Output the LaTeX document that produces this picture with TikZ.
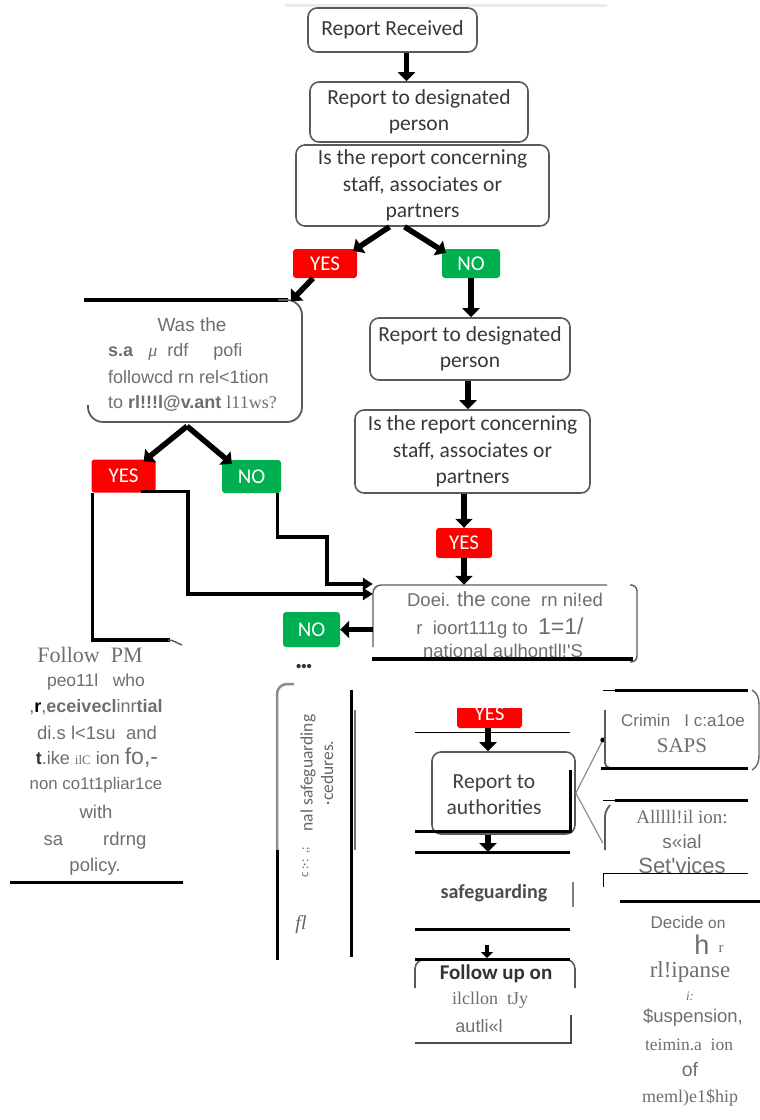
\documentclass[tikz,border=0pt]{standalone}
\usepackage{fontspec}
\setmainfont{Carlito}
\newfontfamily\ars{Liberation Sans}
\newfontfamily\ser{Liberation Serif}
\usetikzlibrary{arrows.meta}
\definecolor{yesred}{HTML}{FF0000}
\definecolor{nogreen}{HTML}{00B050}
\definecolor{ocr}{HTML}{6E6E6E}
\definecolor{boxline}{HTML}{5A5A5A}
\newcommand\myfs[2]{\fontsize{#1}{#2}\selectfont}
\tikzset{
  fbox/.style={draw=boxline, line width=1.6pt, rounded corners=9pt, align=center, inner sep=0pt, text=black!78, font=\myfs{21.5}{26.5}},
  yesbox/.style={fill=yesred, rounded corners=3pt, text=white, font=\myfs{21}{22}, inner sep=0pt},
  nobox/.style={fill=nogreen, rounded corners=3pt, text=white, font=\myfs{21}{22}, inner sep=0pt},
  bigarrow/.style={line width=5.5pt, -{Triangle[length=9pt,width=17pt]}},
  elbow/.style={line width=3.2pt, -{Triangle[length=10pt,width=12pt]}},
  txt/.style={inner sep=0pt, text=ocr, font=\ars\myfs{17.5}{20}},
  sertxt/.style={inner sep=0pt, text=ocr, font=\ser\myfs{18}{21}},
  fctxt/.style={inner sep=0pt, align=center, text=black!75, font=\myfs{21.5}{26}},
  thickrule/.style={line width=3pt},
  thinrule/.style={line width=1pt},
  grayrule/.style={draw=boxline, line width=1.4pt},
  hidden/.style={inner sep=0pt, draw=none}
}
\begin{document}
\begin{tikzpicture}[x=1pt,y=-1pt]
\useasboundingbox (0,0) rectangle (760,1120);
\draw[black!8, line width=3pt] (285,5) -- (607,5);

% ---------- top column ----------
\node[fbox, minimum width=169pt, minimum height=44pt] (rr) at (392.5,30) {Report Received};
\node[fbox, minimum width=218pt, minimum height=60pt] (d1) at (419,112) {Report to designated\\person};
\node[fbox, minimum width=253pt, minimum height=81pt] (c1) at (422.5,185.5) {Is the report concerning\\staff, associates or\\partners};
\draw[bigarrow] ([xshift=14pt]rr.south) -- ([xshift=14pt]rr.south |- d1.north);

\node[yesbox, minimum width=64pt, minimum height=29pt] (y1) at (325,263.5) {YES};
\node[nobox, minimum width=58pt, minimum height=29pt] (n1) at (471,263.5) {NO};
\draw[bigarrow] ([xshift=-33pt]c1.south) -- ([xshift=-4pt,yshift=-2pt]y1.north east);
\draw[bigarrow] ([xshift=-18pt]c1.south) -- ([xshift=4pt,yshift=-4pt]n1.north west);

% ---------- left question box ----------
\node[hidden, minimum width=218pt, minimum height=122pt] (q2) at (193,361) {};
\draw[line width=3.5pt] (84,300) -- (288,300);
\draw[grayrule, line width=1.8pt, rounded corners=15pt] (278,300) -- (302,300) -- (302,422) -- (88,422) -- (88,405);
\draw[bigarrow] ([xshift=-12pt]y1.south) -- ([xshift=98pt,yshift=60pt]q2.center);
\node[txt, font=\ars\myfs{19}{21}] (q2a) at (192,325) {Was the};
\node[txt, anchor=west, font=\ars\myfs{18}{20}] (q2b) at (108,352) {\textbf{s.a}\ \ \ {\itshape\ser μ}\ \ rdf\ \ \ \ \ pofi};
\node[txt, anchor=west, font=\ars\myfs{18}{20}] (q2c) at (108,377) {followcd rn rel<1tion};
\node[txt, anchor=west, font=\ars\myfs{18}{20}] (q2d) at (108,403) {to \textbf{rl!!!l@v.ant} {\ser l11ws?}};

% ---------- right column ----------
\node[fbox, minimum width=200pt, minimum height=62pt] (d2) at (470,349) {Report to designated\\person};
\node[fbox, minimum width=235pt, minimum height=83pt] (c2) at (472.5,451.5) {Is the report concerning\\staff, associates or\\partners};
\draw[bigarrow] (n1.south) -- (n1.south |- d2.north);
\draw[bigarrow] ([xshift=-2pt]d2.south) -- ([xshift=-2pt]d2.south |- c2.north);
\node[yesbox, minimum width=56pt, minimum height=30pt] (y2) at (464,543) {YES};
\draw[bigarrow] (c2.south -| y2.north) -- (y2.north);

% ---------- left YES / NO ----------
\node[yesbox, minimum width=64pt, minimum height=33pt] (y3) at (123.5,476) {YES};
\node[nobox, minimum width=59pt, minimum height=33pt] (n3) at (251.5,476.5) {NO};
\draw[bigarrow] ([xshift=-6pt,yshift=-4pt]q2.south) -- ([xshift=-12pt,yshift=-2pt]y3.north east);
\draw[bigarrow] ([xshift=-6pt,yshift=-4pt]q2.south) -- ([xshift=10pt,yshift=-4pt]n3.north west);

% ---------- concern box ----------
\node[hidden, minimum width=264pt, minimum height=75pt] (q3) at (505,622.5) {};
\draw[bigarrow] (y2.south) -- (y2.south |- q3.north);
\draw[grayrule, rounded corners=8pt] (373,647) -- (373,585) -- (607,585);
\draw[grayrule, rounded corners=6pt] (630,585) -- (637,585) -- (637,662) -- (630,662);
\draw[line width=3.5pt] (372,659) -- (633,659);
\node[txt, font=\ars\myfs{18.5}{20}] (q3a) at (505,599) {Doei. {\myfs{20.5}{22}the} cone\ \ rn ni!ed};
\node[txt, font=\ars\myfs{18.5}{20}] (q3b) at (500,628) {r\ \ ioort111g to\ \ {\myfs{23}{24}1=1/}};
\begin{scope}
\clip (360,630) rectangle (640,657.5);
\node[txt, font=\ars\myfs{18.5}{20}] (q3c) at (503,651) {national aulhontll!'S};
\end{scope}

\draw[elbow] ([xshift=-15pt,yshift=1.5pt]y3.south east) -| (188,594) -- ([yshift=28.5pt]q3.west);
\draw[elbow] ([xshift=-3.5pt]n3.south east) |- (327,537) |- ([yshift=38.5pt]q3.west);

\node[nobox, minimum width=57pt, minimum height=35pt] (n4) at (311.5,629.5) {NO};
\draw[bigarrow] (q3.west |- n4.east) -- (n4.east);
\node[inner sep=0pt, font=\ars\bfseries\myfs{15}{16}, text=black!80] (dots) at (304,668) {•••};

% ---------- left "Follow PM" text ----------
\draw[line width=3.2pt] ([xshift=1.5pt]y3.south west) |- (170,640);
\draw[boxline, line width=1.5pt] (168,640) to[out=0,in=160] (182,645);
\node[sertxt, font=\ser\myfs{22}{24}] (fp1) at (90,655) {Follow\ \ PM};
\node[txt] (fp2) at (96,682) {peo11l\ \ \ who};
\node[txt, font=\ars\myfs{18}{20}] (fp3) at (96,707) {,{\color{black}\textbf{r}},\textbf{eceivecl}inr\textbf{t}\textbf{ial}};
\node[txt, font=\ars\myfs{18.5}{20}] (fp4) at (97,733) {di.s l<1su\ \ and};
\node[txt, font=\ars\myfs{18}{20}] (fp5) at (97,758) {{\color{black!80}\textbf{t}}.ike {\ser\myfs{13}{14}ilC} ion {\myfs{23}{24}fo,-}};
\node[txt, font=\ars\myfs{16.8}{18}] (fp6) at (96,785) {non co1t1pliar1ce};
\node[txt, font=\ars\myfs{18.5}{20}] (fp7) at (96,812) {with};
\node[txt, font=\ars\myfs{18.5}{20}] (fp8) at (95,841) {sa\hspace{40pt}rdrng};
\node[txt, font=\ars\myfs{18.5}{20}] (fp9) at (95,867) {policy.};
\draw[thickrule] (10,882) -- (183,882);

% ---------- rotated box ----------
\draw[black!45, line width=2.5pt, rounded corners=10pt] (294,684) -- (277,684) -- (277,850);
\draw[line width=3pt] (277,850) -- (277,960);
\draw[line width=3pt] (351,690) -- (351,957);
\draw[black!55, line width=2.5pt] (355,710) -- (355,850);
\node[rotate=90, inner sep=0pt, text=black!60, font=\myfs{17.5}{19}] (rs1) at (308,773) {nal safeguarding};
\node[rotate=90, inner sep=0pt, text=black!60, font=\myfs{17.5}{19}] (rs2) at (327,773) {·cedures.};
\node[rotate=90, inner sep=0pt, text=black!55, font=\myfs{13}{14}] (rs0) at (306,862) {c\,:·:\ \ ,;};
\node[inner sep=0pt, text=black!60, font=\ser\itshape\myfs{20}{22}] (fl) at (301,925) {fl};

% ---------- right lower column ----------
\begin{scope}
\clip (440,708) rectangle (540,732);
\node[yesbox, minimum width=65pt, minimum height=29pt] (y4) at (489.5,713.5) {YES};
\end{scope}
\draw[thinrule] (415,732) -- (570,732);
\node[fbox, minimum width=143pt, minimum height=82pt] (ra) at (503.5,793) {};
\node[fctxt] (ratext) at (494,795) {Report to\\authorities};
\draw[bigarrow] ([xshift=-1.5pt]y4.south) -- ([xshift=-1.5pt]y4.south |- ra.north);
\draw[thickrule] (570,770) -- (570,832);
\draw[thickrule] (415,831) -- (572,831);
\coordinate (r2) at (488,852);
\draw[bigarrow] (ra.south -| r2) -- (r2);
\draw[thickrule] (415,852) -- (570,852);
\node[fctxt, text=black!70, font=\bfseries\myfs{20}{22}] (sg) at (494,893) {safeguarding};
\draw[black!50, line width=2.5pt] (573,882) -- (573,907);
\draw[thickrule] (415,929) -- (570,929);
\coordinate (r3) at (487,958);
\draw[line width=4pt, -{Triangle[length=6pt,width=12pt]}] (487,945) -- (r3);
\draw[boxline, line width=1.6pt, rounded corners=10pt] (415,988) -- (415,959) -- (575,959) -- (575,988);
\draw[thickrule] (415,959) -- (570,959);
\node[fctxt, text=black!80, font=\bfseries\myfs{21}{23}] (fu1) at (496,974) {Follow up on};
\node[sertxt, font=\ser\myfs{18}{20}] (fu2) at (490,1000) {ilcllon\ \ tJy};
\node[txt, font=\ars\myfs{18}{20}] (fu3) at (479,1026) {autli«l};
\draw[black!70, line width=1.2pt] (415,1043) -- (571,1043) -- (571,1015);

% ---------- authorities branches ----------
\node[hidden, minimum width=145pt, minimum height=78pt] (cr) at (675.5,729) {};
\node[hidden, minimum width=145pt, minimum height=73pt] (al) at (675.5,836.5) {};
\draw[black!45, line width=1.2pt] (ra.east) -- ([yshift=-11pt]cr.west);
\fill ([yshift=-11pt]cr.west) circle (2.5pt);
\draw[black!45, line width=1.2pt] (ra.east) -- ([yshift=-6.5pt]al.west);

\draw[thinrule] (603,690) -- (615,690);
\draw[thickrule] (615,690) -- (748,690);
\draw[boxline, line width=1.8pt, rounded corners=5pt] (605,710) -- (605,768) -- (612,768);
\draw[thickrule] (601,768) -- (748,768);
\draw[black!60, line width=1.4pt] (752,690) to[out=-30,in=90] (759,705) -- (759,755) to[out=-90,in=30] (752,770);
\node[txt, font=\ars\myfs{17}{20}] (cr1) at (683,720) {Crimin\ \ \ I c:a1oe};
\node[sertxt, font=\ser\myfs{21}{24}] (cr2) at (682,746) {SAPS};

\draw[thinrule] (603,800) -- (615,800);
\draw[thickrule] (615,800) -- (748,800);
\draw[boxline, line width=1.8pt, rounded corners=4pt] (610,805) -- (605,812) -- (605,850);
\node[sertxt, font=\ser\myfs{19}{21}] (al1) at (682,817) {Alllll!il ion:};
\node[txt, font=\ars\myfs{19}{20}] (al2) at (682,842) {s«ial};
\node[txt, font=\ars\myfs{22}{24}] (al3) at (682,866) {Set'vices};
\draw[thinrule] (603,887) -- (603,873) -- (748,873);
\draw[thickrule] (620,901) -- (760,901);

% ---------- decide text ----------
\node[txt, font=\ars\myfs{17}{20}] (de1) at (688,922) {Decide {\myfs{15.5}{17}on}};
\node[txt, font=\ars\myfs{27}{28}] (de2) at (702,945) {h};
\node[sertxt, font=\ser\myfs{15}{17}] (de2b) at (721,949) {r};
\node[sertxt, font=\ser\myfs{23}{26}] (de3) at (690,972) {rl!ipanse};
\node[sertxt, font=\ser\itshape\myfs{13}{15}] (de4) at (690,996) {i:};
\node[txt, font=\ars\myfs{18.5}{20}] (de5) at (693,1018) {\$uspension,};
\node[sertxt, font=\ser\myfs{17.5}{19}] (de6) at (689,1045) {teimin.a\ \ ion};
\node[txt, font=\ars\myfs{19.5}{21}] (de7) at (690,1070) {of};
\node[sertxt, font=\ser\myfs{18}{20}] (de8) at (690,1098) {meml)e1\$hip};
\end{tikzpicture}
\end{document}
